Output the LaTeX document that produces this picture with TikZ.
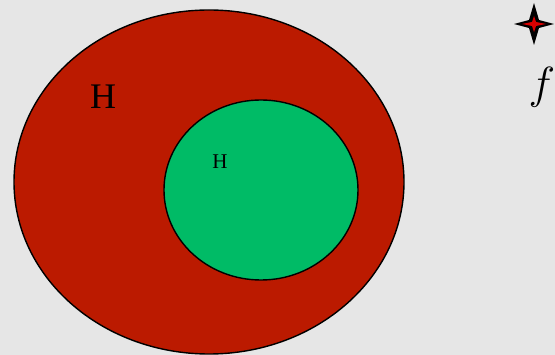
\documentclass[tikz,border=0pt]{standalone}
\usepackage{fix-cm}
\usepackage{fontspec}
\setmainfont{Liberation Serif}
\usetikzlibrary{shapes.geometric,positioning}
\definecolor{bggray}{HTML}{E6E6E6}
\definecolor{setred}{HTML}{BB1A00}
\definecolor{setgreen}{HTML}{00BB66}

\begin{document}
\begin{tikzpicture}[
  x=1pt, y=-1pt,
  set/.style={ellipse, draw=black, line width=1.4pt, inner sep=0pt},
  set label/.style={inner sep=0pt, text=black}
]
  \fill[bggray] (0,0) rectangle (555,355);
  \useasboundingbox (0,0) rectangle (555,355);

  \node[set, fill=setred, minimum width=390pt, minimum height=344pt] (outer) at (209,182) {};
  \node[set, fill=setgreen, minimum width=194pt, minimum height=180pt] (inner) at (261,190) {};

  % labels of the two sets
  \node[set label, font=\fontsize{36}{40}\selectfont] (outerH) at (103,97) {H};
  \node[set label, font=\fontsize{21}{24}\selectfont] (innerH) at (220,162) {H};

  % four pointed star
  \coordinate (star) at (534,24);
  \fill[black] (star) ++(-20,0) -- ++(15,-4) -- ++(5,-17) -- ++(5,17)
    -- ++(15,4) -- ++(-15,4) -- ++(-5,17) -- ++(-5,-17) -- cycle;
  \fill[red!85!black] (star) ++(-12,0) -- ++(10,-2) -- ++(2,-6) -- ++(2,6)
    -- ++(10,2) -- ++(-10,2) -- ++(-2,6) -- ++(-2,-6) -- cycle;

  \node[set label, font=\fontsize{45}{50}\selectfont] (func) at (542,87) {$f$};
\end{tikzpicture}
\end{document}
